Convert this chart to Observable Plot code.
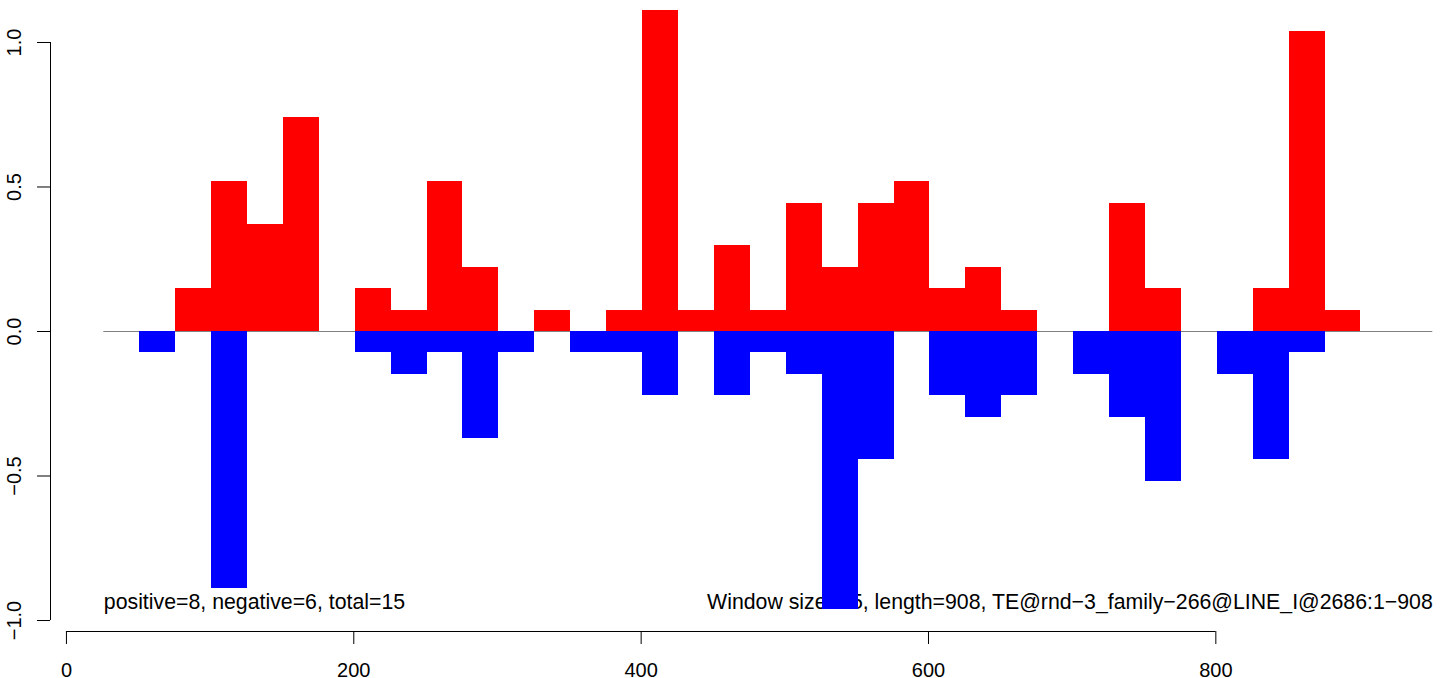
<!DOCTYPE html>
<html>
<head>
<meta charset="utf-8">
<script src="https://cdn.jsdelivr.net/npm/d3@7"></script>
<script src="https://cdn.jsdelivr.net/npm/@observablehq/plot@0.6"></script>
<style>
  html, body { margin: 0; padding: 0; background: #ffffff; }
  #chart svg { display: block; }
</style>
</head>
<body>
<div id="chart"></div>
<script>
// ---- data ----
const binWidth = 25;
const posStart = [76,101,126,151,201,226,251,276,326,376,401,426,451,476,501,526,551,576,601,626,651,726,751,826,851,876];
const posValue = [0.148,0.519,0.370,0.741,0.148,0.074,0.519,0.222,0.074,0.074,1.111,0.074,0.296,0.074,0.444,0.222,0.444,0.519,0.148,0.222,0.074,0.444,0.148,0.148,1.037,0.074];
const negStart = [51,101,201,226,251,276,301,351,376,401,451,476,501,526,551,601,626,651,701,726,751,801,826,851];
const negValue = [-0.074,-0.889,-0.074,-0.148,-0.074,-0.370,-0.074,-0.074,-0.074,-0.222,-0.222,-0.074,-0.148,-0.963,-0.444,-0.222,-0.296,-0.222,-0.148,-0.296,-0.519,-0.148,-0.444,-0.074];
const xTicks = [0, 200, 400, 600, 800];
const yTicks = [-1, -0.5, 0, 0.5, 1];
const zeroLineX = [26, 951];
const noteLabels = ["positive=8, negative=6, total=15",
                    "Window size=25, length=908, TE@rnd\u22123_family\u2212266@LINE_I@2686:1\u2212908"];
const noteX = [26, 951];
const noteY = [-0.935, -0.935];

const xDomain = [-11.1, 951.5];
const yDomain = [-1.038, 1.1453];

// ---- build tables ----
const posData = posStart.map((s, i) => ({x1: s, x2: s + binWidth, v: posValue[i]}));
const negData = negStart.map((s, i) => ({x1: s, x2: s + binWidth, v: negValue[i]}));
const notes = noteLabels.map((t, i) => ({t, x: noteX[i], y: noteY[i]}));
const font = "'Liberation Sans', Arial, Helvetica, sans-serif";
const fmtY = v => (v < 0 ? "\u2212" : "") + Math.abs(v).toFixed(1);

const chart = Plot.plot({
  width: 1444,
  height: 678,
  marginLeft: 50,
  marginRight: 11,
  marginTop: 0,
  marginBottom: 47,
  style: {fontFamily: font, fontSize: "20px", background: "#ffffff", color: "#000000"},
  x: {domain: xDomain, label: null},
  y: {domain: yDomain, label: null},
  marks: [
    Plot.ruleY([0], {x1: zeroLineX[0], x2: zeroLineX[1], stroke: "#808080", strokeWidth: 1}),
    Plot.text(notes.slice(0,1), {x: "x", y: "y", text: "t", textAnchor: "start", fontSize: 21.3, fill: "#000"}),
    Plot.text(notes.slice(1), {x: "x", y: "y", text: "t", textAnchor: "end", fontSize: 21.3, fill: "#000"}),
    Plot.rectY(posData, {x1: "x1", x2: "x2", y: "v", fill: "#ff0000", shapeRendering: "crispEdges"}),
    Plot.rectY(negData, {x1: "x1", x2: "x2", y: "v", fill: "#0000ff", shapeRendering: "crispEdges"}),
    Plot.ruleY([yDomain[0]], {x1: xTicks[0], x2: xTicks[xTicks.length - 1], stroke: "#000", strokeWidth: 1}),
    Plot.ruleX([xDomain[0]], {y1: yTicks[0], y2: yTicks[yTicks.length - 1], stroke: "#000", strokeWidth: 1}),
    Plot.axisX({ticks: xTicks, tickSize: 13, tickPadding: 18, tickFormat: d => String(d), label: null, fontSize: 20, stroke: "#000", fill: "#000"}),
    Plot.axisY({ticks: yTicks, tickSize: 13, tickPadding: 17, tickRotate: -90, tickFormat: fmtY, label: null, fontSize: 20, stroke: "#000", fill: "#000"})
  ]
});
document.getElementById("chart").appendChild(chart);
</script>
</body>
</html>
